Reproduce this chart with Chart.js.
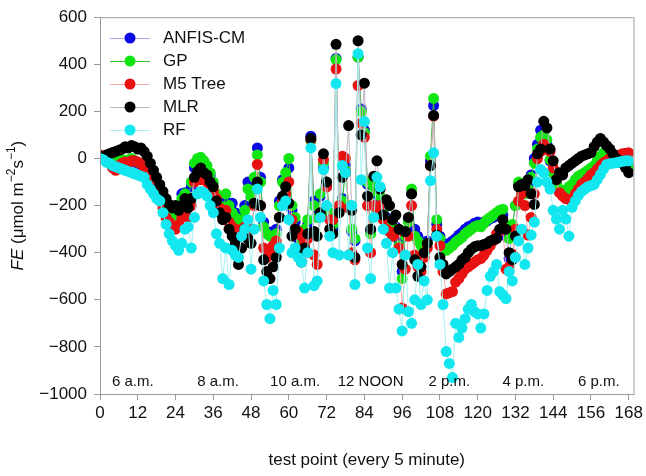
<!DOCTYPE html>
<html>
<head>
<meta charset="utf-8">
<script src="https://cdn.jsdelivr.net/npm/chart.js@4.4.0/dist/chart.umd.min.js"></script>
<style>
  html, body { margin: 0; padding: 0; background: #fff; }
  canvas { display: block; }
</style>
</head>
<body>
<canvas id="chart" width="646" height="476"></canvas>
<script>
// FE values, test points 0..168
const anfis = [10,5,0,-5,-10,-10,-5,-10,-15,-10,-5,-15,-20,-25,-35,-55,-75,-105,-135,-155,-170,-190,-200,-210,-220,-200,-150,-145,-200,-120,
  -40,-20,-15,-30,-50,-70,-170,-180,-210,-240,-180,-210,-190,-230,-260,-240,-200,-100,-140,-95,
  45,-80,-270,-310,-320,-310,-300,-180,-90,-80,-40,-220,-270,-340,-370,-320,-280,95,-180,-240,
  -160,-40,-120,-250,-300,425,-210,-170,-30,-210,-310,-350,430,210,120,-110,-310,-115,-150,-170,
  -230,-250,-290,-320,-290,-350,-480,-320,-260,-150,-300,-330,-360,-370,-350,-10,225,-280,-330,-360,
  -370,-360,-350,-340,-325,-315,-300,-290,-285,-275,-270,-275,-270,-265,-255,-250,-240,-230,-240,-330,
  -425,-300,-200,-110,-120,-140,-120,-70,0,60,120,110,60,-10,-60,-110,-140,-150,-150,-140,
  -130,-110,-90,-75,-65,-55,-45,-35,-15,0,15,15,10,5,0,-5,-15,-25,-35]
const gp = [10,5,0,-5,-10,-5,0,-5,-10,-5,0,-10,-15,-20,-30,-50,-70,-100,-130,-150,-170,-190,-210,-220,-240,-230,-170,-150,-180,-100,
  -20,0,5,-10,-30,-60,-100,-150,-200,-230,-150,-200,-230,-250,-280,-260,-220,-130,-160,-80,
  15,-100,-290,-320,-330,-330,-320,-200,-100,-60,0,-200,-250,-320,-350,-300,-260,75,-200,-250,
  -150,-20,-100,-230,-280,420,-200,-180,-50,-200,-300,-340,430,200,110,-100,-320,-120,-140,-160,
  -220,-260,-280,-330,-300,-370,-510,-330,-270,-130,-330,-350,-370,-380,-360,10,255,-260,-340,-380,
  -390,-380,-370,-355,-345,-335,-320,-310,-300,-290,-285,-290,-275,-260,-250,-240,-230,-220,-215,-300,
  -340,-280,-200,-100,-120,-150,-130,-80,-20,40,90,100,80,-5,-60,-100,-130,-150,-140,-120,
  -110,-90,-75,-68,-60,-50,-40,-30,-10,10,24,20,15,10,5,0,-10,-25,-40]
const m5tree = [15,10,0,-20,-40,-50,-30,-20,-15,-20,-10,-10,-15,-20,-40,-60,-90,-120,-150,-180,-210,-250,-270,-290,-300,-280,-250,-220,-250,-200,
  -100,-80,-90,-90,-100,-110,-140,-170,-210,-250,-220,-270,-290,-300,-330,-300,-290,-340,-300,-200,
  -25,-200,-380,-420,-400,-370,-350,-250,-180,-150,-100,-260,-310,-310,-330,-360,-340,80,-410,-450,
  -230,-5,-120,-260,-260,380,-200,10,0,-210,-400,-430,310,150,90,-200,-400,-200,-210,-200,
  -260,-300,-310,-330,-320,-380,-635,-470,-330,-200,-410,-460,-480,-420,-380,-30,180,-300,-370,-480,
  -575,-570,-565,-525,-510,-490,-470,-460,-450,-440,-430,-425,-410,-390,-370,-350,-320,-305,-300,-470,
  -460,-405,-300,-180,-150,-200,-325,-250,-150,0,30,60,40,30,-40,-90,-145,-160,-170,-175,
  -180,-150,-130,-110,-100,-85,-70,-60,-45,-30,-18,-10,0,5,10,15,20,22,24]
const mlr = [10,5,15,20,25,30,35,40,50,45,55,50,40,45,30,10,-20,-50,-80,-110,-140,-170,-195,-210,-200,-220,-200,-170,-210,-170,
  -80,-55,-40,-60,-70,-100,-120,-180,-230,-260,-250,-300,-330,-360,-450,-380,-300,-340,-360,-190,
  -100,-200,-430,-480,-510,-460,-420,-250,-160,-120,-190,-330,-300,-400,-440,-380,-320,85,-310,-330,
  -230,20,-100,-300,-320,485,-230,-80,-60,140,-220,-420,500,100,320,-160,-300,-75,-10,-130,
  -240,-175,-200,-260,-240,-300,-450,-310,-250,-150,-430,-500,-460,-400,-360,-30,183,-325,-420,-450,
  -490,-480,-470,-460,-450,-430,-420,-400,-385,-375,-370,-370,-365,-360,-350,-345,-340,-300,-260,-300,
  -400,-430,-330,-120,-110,-115,-90,-150,-195,20,40,158,130,40,-10,-90,-60,-70,-40,-30,
  -20,-10,0,10,15,20,25,50,70,85,70,55,40,20,0,-10,-20,-40,-60]
const rf = [0,-5,-15,-20,-30,-35,-40,-45,-50,-55,-60,-65,-70,-75,-80,-110,-130,-150,-170,-180,-230,-280,-320,-350,-370,-390,-360,-300,-290,-380,
  -250,-150,-140,-145,-160,-200,-230,-320,-360,-510,-380,-535,-390,-410,-420,-330,-300,-260,-470,-300,
  -130,-250,-520,-620,-680,-560,-620,-380,-200,-180,-260,-400,-380,-420,-440,-550,-400,45,-540,-520,
  -250,-47,-200,-330,-400,318,-410,-30,-60,-410,-200,-535,445,-90,157,-380,-510,-250,-80,-120,
  -300,-360,-550,-400,-550,-640,-732,-410,-650,-700,-600,-450,-620,-520,-600,-94,24,-330,-450,-620,
  -820,-870,-930,-700,-760,-720,-680,-640,-620,-650,-660,-720,-660,-560,-500,-480,-450,-565,-580,-595,
  -480,-520,-420,-350,-300,-450,-380,-325,-270,-100,-47,-60,-100,-130,-220,-257,-300,-220,-257,-330,
  -207,-180,-157,-140,-130,-120,-115,-110,-90,-68,-45,-25,-22,-20,-18,-15,-12,-10,-10]

const seriesNames = ['ANFIS-CM', 'GP', 'M5 Tree', 'MLR', 'RF']
const xTicks = [0, 12, 24, 36, 48, 60, 72, 84, 96, 108, 120, 132, 144, 156, 168]
const yTicks = [-1000, -800, -600, -400, -200, 0, 200, 400, 600]
const timeLabels = ['6 a.m.', '8 a.m.', '10 a.m.', '12 NOON', '2 p.m.', '4 p.m.', '6 p.m.']
const timeAt = [10.4, 37.5, 62, 86, 111, 134.5, 158.5]

const pointColors = ['#0a0ae6', '#12e612', '#e81212', '#000000', '#12e6ef']
const lineColors = ['#a9a9f2', '#2fc42f', '#f2aaaa', '#bdb4bd', '#a6f0f2']
const FONT = "'Liberation Sans', Arial, sans-serif"

const allSeries = [anfis, gp, m5tree, mlr, rf]

const datasets = allSeries.map((vals, k) => ({
  label: seriesNames[k],
  data: vals.map((v, i) => ({ x: i, y: v })),
  borderColor: lineColors[k],
  borderWidth: 1,
  backgroundColor: pointColors[k],
  pointBackgroundColor: pointColors[k],
  pointBorderWidth: 0,
  pointRadius: 5.5,
  pointHoverRadius: 5.5,
  tension: 0,
  order: 5 - k   // RF ends up on top
}))

// frame, in-plot time labels, legend and axis titles
const decor = {
  id: 'decor',
  afterDraw(chart) {
    const { ctx, chartArea: a, scales } = chart
    ctx.save()
    ctx.strokeStyle = '#9a9a9a'
    ctx.lineWidth = 1
    ctx.strokeRect(a.left + 0.5, a.top + 0.5, a.right - a.left, a.bottom - a.top)

    ctx.fillStyle = '#111'
    ctx.font = '15px ' + FONT
    ctx.textAlign = 'center'
    ctx.textBaseline = 'middle'
    timeLabels.forEach((t, i) => {
      ctx.fillText(t, scales.x.getPixelForValue(timeAt[i]), a.bottom - 12)
    })

    // legend
    ctx.font = '17px ' + FONT
    ctx.textAlign = 'left'
    seriesNames.forEach((name, k) => {
      const y = 38 + k * 23
      ctx.strokeStyle = lineColors[k]
      ctx.lineWidth = 1
      ctx.beginPath()
      ctx.moveTo(110, y + 0.5)
      ctx.lineTo(150, y + 0.5)
      ctx.stroke()
      ctx.fillStyle = pointColors[k]
      ctx.beginPath()
      ctx.arc(130, y, 5.5, 0, Math.PI * 2)
      ctx.fill()
      ctx.fillStyle = '#111'
      ctx.fillText(name, 163, y)
    })

    // x title
    ctx.textAlign = 'center'
    ctx.font = '17px ' + FONT
    ctx.fillText('test point (every 5 minute)', (a.left + a.right) / 2, 460)

    // y title, rotated, with italic FE and superscripts
    ctx.translate(18, (a.top + a.bottom) / 2)
    ctx.rotate(-Math.PI / 2)
    const parts = [
      ['FE', 'italic 17px ' + FONT, 0],
      [' (\u03bcmol m', '17px ' + FONT, 0],
      ['\u22122', '12px ' + FONT, -6],
      ['s', '17px ' + FONT, 0],
      ['\u22121', '12px ' + FONT, -6],
      [')', '17px ' + FONT, 0]
    ]
    let total = 0
    parts.forEach(p => { ctx.font = p[1]; total += ctx.measureText(p[0]).width })
    let px = -total / 2
    ctx.textAlign = 'left'
    parts.forEach(p => {
      ctx.font = p[1]
      ctx.fillText(p[0], px, p[2])
      px += ctx.measureText(p[0]).width
    })
    ctx.restore()
  }
}

new Chart(document.getElementById('chart'), {
  type: 'line',
  data: { datasets },
  options: {
    responsive: false,
    animation: false,
    devicePixelRatio: 1,
    layout: { padding: { top: 13, right: 9, left: 0, bottom: 0 } },
    plugins: { legend: { display: false }, tooltip: { enabled: false } },
    scales: {
      x: {
        type: 'linear',
        min: 0,
        max: 169.5,
        afterFit: s => { s.height = 82 },
        afterBuildTicks: s => { s.ticks = xTicks.map(v => ({ value: v })) },
        grid: { drawOnChartArea: false, tickLength: 6, color: '#9a9a9a' },
        border: { color: '#9a9a9a' },
        ticks: { color: '#111', font: { family: FONT, size: 17 }, padding: 3, maxRotation: 0, autoSkip: false }
      },
      y: {
        min: -1000,
        max: 600,
        afterFit: s => { s.width = 100 },
        afterBuildTicks: s => { s.ticks = yTicks.map(v => ({ value: v })) },
        grid: { drawOnChartArea: false, tickLength: 6, color: '#9a9a9a' },
        border: { color: '#9a9a9a' },
        ticks: {
          color: '#111',
          font: { family: FONT, size: 17 },
          padding: 7,
          callback: v => String(v).replace('-', '\u2212')
        }
      }
    }
  },
  plugins: [decor]
})
</script>
</body>
</html>
